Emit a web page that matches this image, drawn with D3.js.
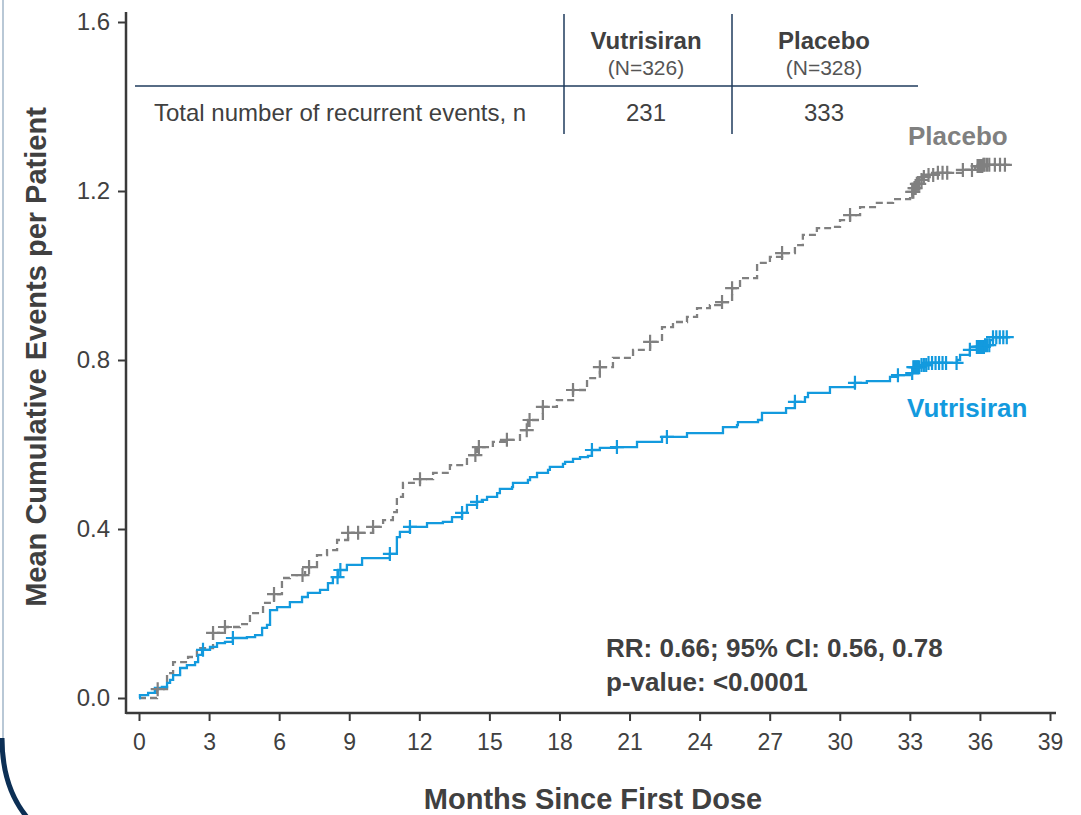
<!DOCTYPE html>
<html>
<head>
<meta charset="utf-8">
<script src="https://cdn.jsdelivr.net/npm/d3@7"></script>
<style>
  body { margin: 0; background: #fff; }
  svg { display: block; font-family: "Liberation Sans", Arial, sans-serif; }
</style>
</head>
<body>
<div id="chart"></div>
<script>
// Mean cumulative events per patient, Vutrisiran vs Placebo

var xTicks = [0, 3, 6, 9, 12, 15, 18, 21, 24, 27, 30, 33, 36, 39]
var yTicks = [0, 0.4, 0.8, 1.2, 1.6]

// step curve: month, mean cumulative events
var placeboMonths = [0, 0.77, 1.2, 1.46, 2.1, 2.48, 3.17, 3.68, 4.32, 4.75, 5.31, 5.78, 6.12, 6.46, 7.11, 7.62, 8.05, 8.48, 8.95, 10.02, 10.45, 10.87, 11.04, 11.3, 12.03, 12.59, 13.31, 14.04, 14.47, 15.15, 15.75, 16.31, 16.65, 17.29, 17.89, 18.58, 19.18, 19.73, 20.29, 21.15, 21.88, 22.39, 22.86, 23.46, 23.89, 24.44, 24.96, 25.39, 25.73, 26.46, 27.01, 27.53, 28.08, 28.42, 29.02, 29.58, 30.01, 30.44, 30.87, 31.59, 32.28, 33.01, 33.1, 33.2, 33.3, 33.43, 33.55, 33.65, 34.16, 35.27, 35.79, 36.13, 37.37]
var placeboValues = [0, 0.021, 0.059, 0.085, 0.097, 0.118, 0.154, 0.168, 0.175, 0.201, 0.225, 0.246, 0.284, 0.291, 0.31, 0.338, 0.35, 0.374, 0.391, 0.405, 0.421, 0.44, 0.476, 0.509, 0.518, 0.533, 0.551, 0.575, 0.594, 0.606, 0.611, 0.634, 0.658, 0.689, 0.705, 0.729, 0.757, 0.783, 0.805, 0.824, 0.843, 0.878, 0.89, 0.902, 0.923, 0.93, 0.937, 0.97, 0.994, 1.03, 1.044, 1.053, 1.072, 1.096, 1.112, 1.115, 1.131, 1.143, 1.162, 1.172, 1.181, 1.188, 1.198, 1.207, 1.217, 1.226, 1.233, 1.238, 1.243, 1.25, 1.259, 1.262, 1.262]

var vutrisiranMonths = [0, 0.04, 0.39, 0.68, 0.98, 1.2, 1.33, 1.46, 1.76, 2.05, 2.4, 2.53, 2.7, 3.04, 3.34, 3.68, 4.02, 4.62, 4.97, 5.27, 5.48, 5.61, 5.91, 6.46, 6.98, 7.23, 7.75, 8.09, 8.3, 8.52, 8.9, 9.55, 10.74, 11.04, 11.17, 11.6, 12.33, 13.01, 13.4, 13.83, 14.04, 14.47, 14.68, 14.9, 15.33, 15.45, 15.97, 16.01, 16.65, 16.74, 17.04, 17.51, 17.59, 18.15, 18.24, 18.58, 18.88, 19.22, 19.39, 19.73, 20.46, 21.32, 22.39, 23.46, 25.0, 25.6, 25.64, 26.5, 26.67, 27.7, 28.08, 28.51, 28.64, 29.58, 30.65, 31.16, 32.15, 32.49, 33.01, 33.13, 33.43, 33.73, 35.02, 35.15, 35.57, 35.87, 36.22, 36.43, 36.56, 37.29]
var vutrisiranValues = [0, 0.007, 0.012, 0.024, 0.026, 0.036, 0.043, 0.054, 0.071, 0.078, 0.085, 0.102, 0.114, 0.121, 0.13, 0.133, 0.142, 0.144, 0.149, 0.166, 0.173, 0.208, 0.215, 0.227, 0.239, 0.249, 0.256, 0.272, 0.286, 0.303, 0.315, 0.331, 0.341, 0.381, 0.393, 0.405, 0.414, 0.417, 0.428, 0.438, 0.457, 0.464, 0.469, 0.476, 0.485, 0.495, 0.499, 0.509, 0.516, 0.523, 0.533, 0.54, 0.547, 0.554, 0.559, 0.566, 0.57, 0.573, 0.587, 0.592, 0.594, 0.606, 0.618, 0.627, 0.641, 0.646, 0.653, 0.658, 0.675, 0.686, 0.701, 0.712, 0.722, 0.736, 0.746, 0.75, 0.76, 0.764, 0.769, 0.783, 0.788, 0.793, 0.8, 0.812, 0.824, 0.831, 0.835, 0.847, 0.854, 0.854]

// censored patients (cross marks), month
var placeboCensor = [0.8, 3.17, 3.68, 5.78, 7.0, 7.28, 8.95, 9.38, 10.02, 12.03, 14.4, 14.55, 15.75, 16.6, 16.72, 17.29, 18.58, 19.73, 21.88, 24.96, 25.39, 27.53, 30.44, 33.1, 33.15, 33.2, 33.25, 33.3, 33.35, 33.4, 33.5, 33.6, 33.8, 34.0, 34.2, 34.4, 34.6, 35.27, 35.66, 35.9, 35.95, 36.0, 36.05, 36.1, 36.15, 36.2, 36.3, 36.4, 36.64, 36.86, 37.07]
var vutrisiranCensor = [2.74, 4.02, 8.5, 8.62, 10.74, 11.6, 13.83, 14.47, 19.39, 20.46, 22.6, 28.08, 30.65, 32.49, 33.1, 33.15, 33.2, 33.25, 33.3, 33.35, 33.4, 33.5, 33.6, 33.7, 33.8, 33.95, 34.1, 34.25, 34.4, 34.55, 35.0, 35.57, 35.87, 35.92, 35.97, 36.02, 36.07, 36.12, 36.17, 36.22, 36.3, 36.4, 36.56, 36.7, 36.85, 37.0, 37.15]

var tableGroups = ["Vutrisiran", "Placebo"]
var tableN = ["(N=326)", "(N=328)"]
var tableEvents = [231, 333]
var tableRowLabel = "Total number of recurrent events, n"

var statLines = ["RR: 0.66; 95% CI: 0.56, 0.78", "p-value: <0.0001"]

var blue = "#139ade"
var grey = "#808080"
var ink = "#404040"

var width = 1081,
    height = 815

var svg = d3.select("#chart").append("svg")
    .attr("width", width)
    .attr("height", height)

// frame decoration on the left
svg.append("line")
  .attr("x1", 3).attr("x2", 3).attr("y1", 0).attr("y2", 760)
  .attr("stroke", "#b9c8d6").attr("stroke-width", 2)
svg.append("path")
  .attr("d", "M2,738 Q2,800 42,832")
  .attr("fill", "none").attr("stroke", "#0c2f55").attr("stroke-width", 5)

// scales
var x = d3.scaleLinear().domain([0, 39]).range([139, 1050])
var y = d3.scaleLinear().domain([0, 1.6]).range([698, 22])

// axes
var axisColor = "#3a3a3a"
var xAxisY = 713, yAxisX = 126

var xAxis = svg.append("g")
  .attr("transform", "translate(0," + xAxisY + ")")
  .call(d3.axisBottom(x).tickValues(xTicks).tickSize(8).tickPadding(13).tickFormat(d3.format("d")))
xAxis.select(".domain").attr("d", "M" + yAxisX + ",0H1056").attr("stroke", axisColor).attr("stroke-width", 2.5)
xAxis.selectAll(".tick line").attr("stroke", axisColor).attr("stroke-width", 2)
xAxis.selectAll(".tick text").attr("fill", ink).attr("font-size", 23).attr("font-family", "Liberation Sans, Arial, sans-serif")

var yAxis = svg.append("g")
  .attr("transform", "translate(" + yAxisX + ",0)")
  .call(d3.axisLeft(y).tickValues(yTicks).tickSize(8).tickPadding(8).tickFormat(d3.format(".1f")))
yAxis.select(".domain").attr("d", "M0,12V" + (xAxisY + 1)).attr("stroke", axisColor).attr("stroke-width", 2.5)
yAxis.selectAll(".tick line").attr("stroke", axisColor).attr("stroke-width", 2)
yAxis.selectAll(".tick text").attr("fill", ink).attr("font-size", 24).attr("font-family", "Liberation Sans, Arial, sans-serif")

// axis titles
svg.append("text")
  .attr("transform", "translate(46,357) rotate(-90)")
  .attr("text-anchor", "middle")
  .attr("font-size", 29).attr("font-weight", "bold").attr("fill", ink)
  .text("Mean Cumulative Events per Patient")

svg.append("text")
  .attr("x", 593).attr("y", 809)
  .attr("text-anchor", "middle")
  .attr("font-size", 29).attr("font-weight", "bold").attr("fill", ink)
  .text("Months Since First Dose")

// curves
function toPoints(months, values) {
  return months.map(function (m, i) { return [m, values[i]] })
}
function valueAt(months, values, m) {
  var i = d3.bisectRight(months, m) - 1
  return values[Math.max(0, i)]
}

var line = d3.line()
  .x(function (d) { return x(d[0]) })
  .y(function (d) { return y(d[1]) })
  .curve(d3.curveStepAfter)

svg.append("path")
  .datum(toPoints(placeboMonths, placeboValues))
  .attr("d", line)
  .attr("fill", "none")
  .attr("stroke", grey)
  .attr("stroke-width", 2.3)
  .attr("stroke-dasharray", "7,4")

svg.append("path")
  .datum(toPoints(vutrisiranMonths, vutrisiranValues))
  .attr("d", line)
  .attr("fill", "none")
  .attr("stroke", blue)
  .attr("stroke-width", 2.3)

var cross = "M-7,0H7M0,-7V7"

svg.selectAll(".cens-placebo")
  .data(placeboCensor)
  .enter().append("path")
  .attr("class", "cens-placebo")
  .attr("d", cross)
  .attr("transform", function (m) { return "translate(" + x(m) + "," + y(valueAt(placeboMonths, placeboValues, m)) + ")" })
  .attr("stroke", grey).attr("stroke-width", 2.2).attr("fill", "none")

svg.selectAll(".cens-vut")
  .data(vutrisiranCensor)
  .enter().append("path")
  .attr("class", "cens-vut")
  .attr("d", cross)
  .attr("transform", function (m) { return "translate(" + x(m) + "," + y(valueAt(vutrisiranMonths, vutrisiranValues, m)) + ")" })
  .attr("stroke", blue).attr("stroke-width", 2.2).attr("fill", "none")

// curve labels
svg.append("text")
  .attr("x", 908).attr("y", 145)
  .attr("font-size", 26).attr("font-weight", "bold").attr("fill", grey)
  .text("Placebo")

svg.append("text")
  .attr("x", 907).attr("y", 417)
  .attr("font-size", 26).attr("font-weight", "bold").attr("fill", blue)
  .text("Vutrisiran")

// table at top
var tableColor = "#1f3b5c"
var colCenters = [646, 824]

svg.append("line")
  .attr("x1", 135).attr("x2", 918).attr("y1", 86).attr("y2", 86)
  .attr("stroke", tableColor).attr("stroke-width", 1.5)

svg.selectAll(".table-sep")
  .data([564, 732])
  .enter().append("line")
  .attr("class", "table-sep")
  .attr("x1", function (d) { return d }).attr("x2", function (d) { return d })
  .attr("y1", 14).attr("y2", 134)
  .attr("stroke", tableColor).attr("stroke-width", 1.5)

svg.selectAll(".table-head")
  .data(tableGroups)
  .enter().append("text")
  .attr("class", "table-head")
  .attr("x", function (d, i) { return colCenters[i] }).attr("y", 49)
  .attr("text-anchor", "middle")
  .attr("font-size", 24).attr("font-weight", "bold").attr("fill", ink)
  .text(function (d) { return d })

svg.selectAll(".table-n")
  .data(tableN)
  .enter().append("text")
  .attr("class", "table-n")
  .attr("x", function (d, i) { return colCenters[i] }).attr("y", 75)
  .attr("text-anchor", "middle")
  .attr("font-size", 21).attr("fill", "#555")
  .text(function (d) { return d })

svg.selectAll(".table-ev")
  .data(tableEvents)
  .enter().append("text")
  .attr("class", "table-ev")
  .attr("x", function (d, i) { return colCenters[i] }).attr("y", 121)
  .attr("text-anchor", "middle")
  .attr("font-size", 24).attr("fill", ink)
  .text(function (d) { return d })

svg.append("text")
  .attr("x", 154).attr("y", 121)
  .attr("font-size", 24).attr("fill", ink)
  .text(tableRowLabel)

// stats
svg.selectAll(".stat")
  .data(statLines)
  .enter().append("text")
  .attr("class", "stat")
  .attr("x", 606).attr("y", function (d, i) { return 657 + i * 34 })
  .attr("font-size", 26).attr("font-weight", "bold").attr("fill", ink)
  .text(function (d) { return d })
</script>
</body>
</html>
